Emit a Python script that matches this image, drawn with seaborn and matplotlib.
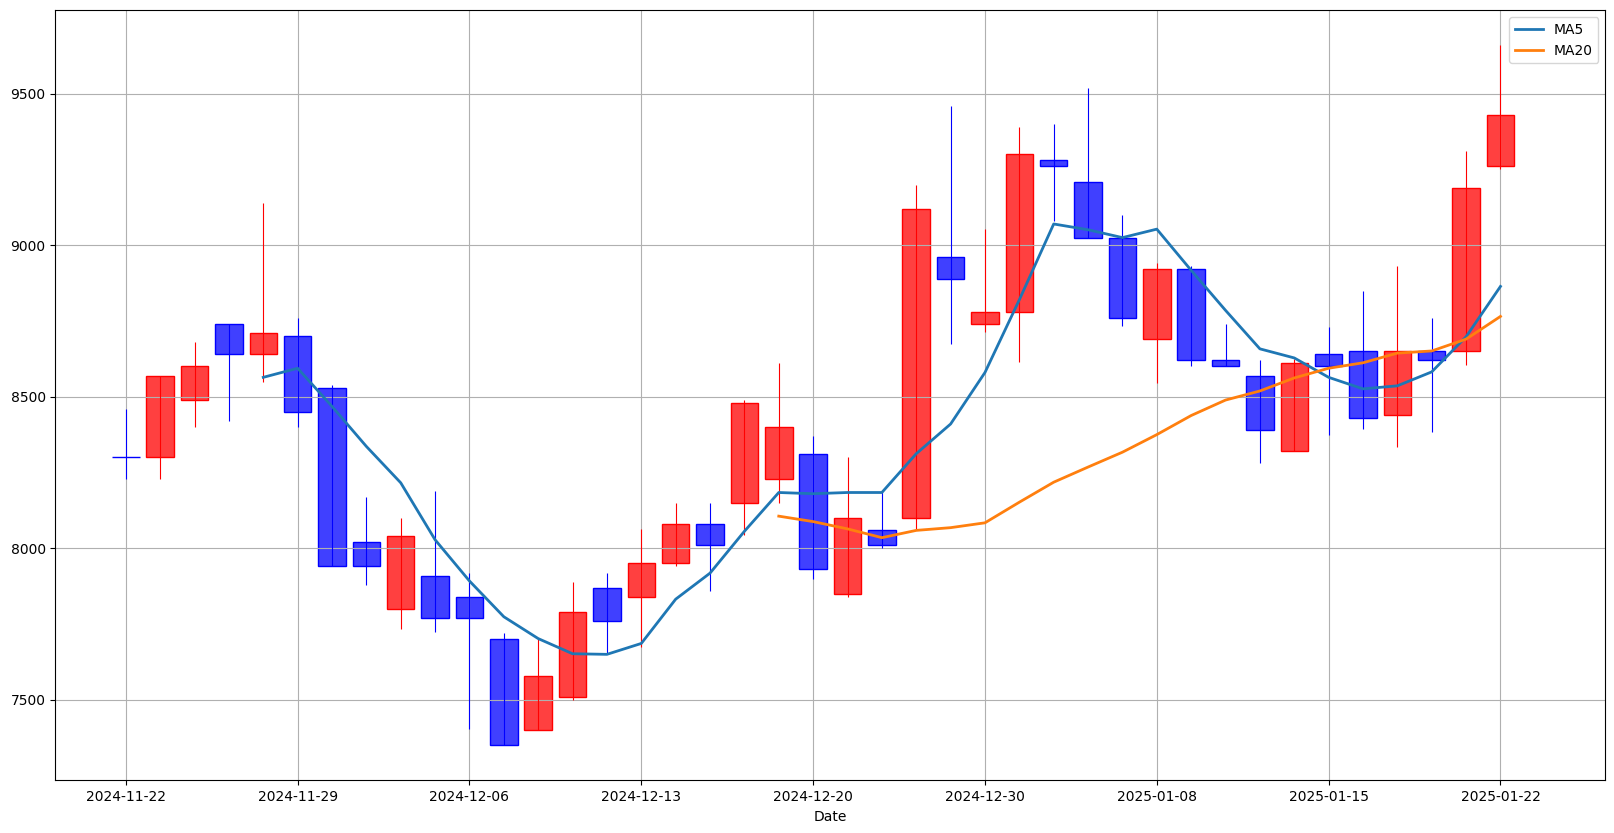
import numpy as np
import pandas as pd
import matplotlib
matplotlib.use("Agg")
import matplotlib.pyplot as plt
import seaborn as sns

# trading days (KRX calendar)
dates = ["2024-11-22", "2024-11-25", "2024-11-26", "2024-11-27", "2024-11-28",
         "2024-11-29", "2024-12-02", "2024-12-03", "2024-12-04", "2024-12-05",
         "2024-12-06", "2024-12-09", "2024-12-10", "2024-12-11", "2024-12-12",
         "2024-12-13", "2024-12-16", "2024-12-17", "2024-12-18", "2024-12-19",
         "2024-12-20", "2024-12-23", "2024-12-24", "2024-12-26", "2024-12-27",
         "2024-12-30", "2025-01-02", "2025-01-03", "2025-01-06", "2025-01-07",
         "2025-01-08", "2025-01-09", "2025-01-10", "2025-01-13", "2025-01-14",
         "2025-01-15", "2025-01-16", "2025-01-17", "2025-01-20", "2025-01-21",
         "2025-01-22"]

opens = [8300, 8300, 8490, 8740, 8640, 8700, 8530, 8020, 7800, 7910,
         7840, 7700, 7400, 7510, 7870, 7840, 7950, 8080, 8150, 8230,
         8310, 7850, 8060, 8100, 8960, 8740, 8780, 9280, 9210, 9025,
         8690, 8920, 8620, 8570, 8320, 8640, 8650, 8440, 8650, 8650,
         9260]
highs = [8460, 8570, 8680, 8740, 9140, 8760, 8540, 8170, 8100, 8190,
         7920, 7720, 7700, 7890, 7920, 8065, 8150, 8150, 8490, 8610,
         8370, 8300, 8185, 9200, 9460, 9055, 9390, 9400, 9520, 9100,
         8940, 8930, 8740, 8620, 8625, 8730, 8850, 8930, 8760, 9310,
         9660]
lows = [8227, 8230, 8400, 8420, 8550, 8400, 7940, 7880, 7735, 7725,
        7405, 7350, 7400, 7500, 7650, 7675, 7940, 7860, 8045, 8150,
        7900, 7840, 8000, 8060, 8675, 8715, 8615, 9080, 9025, 8735,
        8545, 8600, 8600, 8280, 8320, 8375, 8395, 8335, 8385, 8605,
        9250]
closes = [8300, 8570, 8600, 8640, 8710, 8450, 7940, 7940, 8040, 7770,
          7770, 7350, 7580, 7790, 7760, 7950, 8080, 8010, 8480, 8400,
          7930, 8100, 8010, 9120, 8890, 8780, 9300, 9260, 9025, 8760,
          8920, 8620, 8600, 8390, 8610, 8600, 8430, 8650, 8620, 9190,
          9430]

# moving averages (first values missing)
ma5 = [None] * 4 + [8564, 8594, 8468, 8336, 8216, 8028, 7892, 7774, 7702, 7652,
                    7650, 7686, 7832, 7918, 8056, 8184, 8180, 8184, 8184, 8312,
                    8410, 8580, 8820, 9070, 9051, 9025, 9053, 8917, 8785, 8658,
                    8628, 8564, 8526, 8536, 8582, 8698, 8864]
ma20 = [None] * 19 + [8106, 8088, 8064, 8035, 8059, 8068, 8084, 8152, 8218, 8268,
                      8317, 8375, 8438, 8489, 8519, 8562, 8594, 8612, 8644, 8651,
                      8690, 8765]

df = pd.DataFrame({"Date": dates, "Open": opens, "High": highs, "Low": lows,
                   "Close": closes, "MA5": ma5, "MA20": ma20})
df["idx"] = np.arange(len(df))

fig = plt.figure(figsize=(16.14, 8.33), dpi=100)
ax = fig.add_axes([0.0343, 0.0633, 0.9603, 0.9245])

up = df["Close"] > df["Open"]
colors = np.where(up, "red", "blue")

# candle bodies
for i, row in df.iterrows():
    c = colors[i]
    lo = min(row["Open"], row["Close"])
    h = abs(row["Close"] - row["Open"])
    ax.bar(row["idx"], h, bottom=lo, width=0.8,
           color=matplotlib.colors.to_rgba(c, 0.75), edgecolor=c, linewidth=1)

# wicks
ax.vlines(df["idx"], df["Low"], df["High"], colors=colors, linewidth=0.8)

sns.lineplot(data=df.dropna(subset=["MA5"]), x="idx", y="MA5", ax=ax,
             label="MA5", color="#1f77b4", linewidth=2)
sns.lineplot(data=df.dropna(subset=["MA20"]), x="idx", y="MA20", ax=ax,
             label="MA20", color="#ff7f0e", linewidth=2)

ticks = list(range(0, len(df), 5))
ax.set_xticks(ticks)
ax.set_xticklabels([dates[t] for t in ticks])
ax.set_xlim(-2.05, 43.05)
ax.set_ylim(7234.5, 9775.5)
ax.set_xlabel("Date")
ax.set_ylabel("")
ax.grid(True)
ax.legend(loc="upper right")

fig.savefig("out.png", dpi=100)
